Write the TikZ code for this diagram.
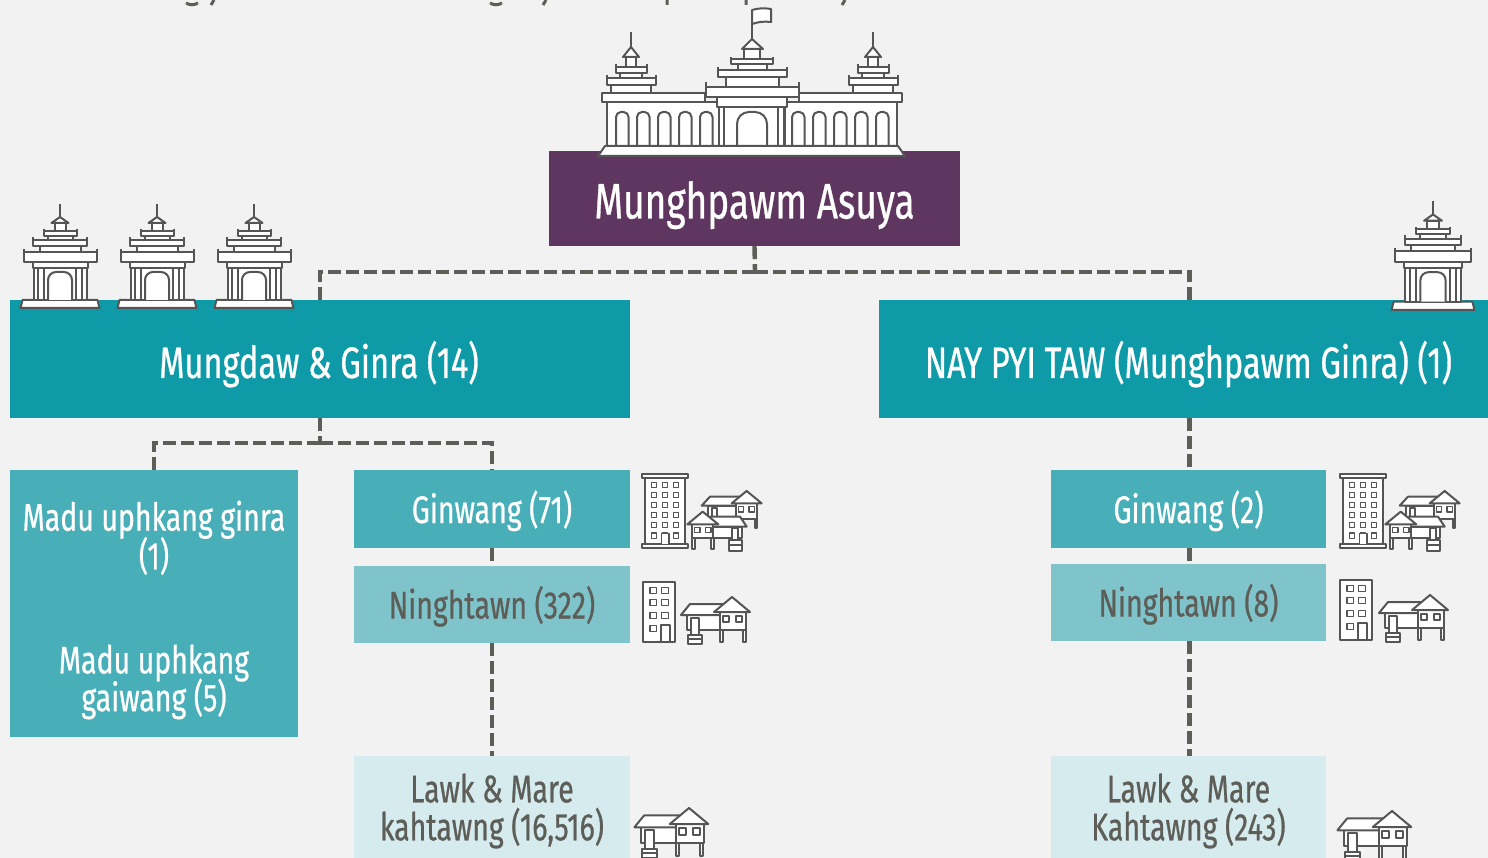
\documentclass[tikz,border=0pt]{standalone}
\usepackage{fontspec}
\newfontfamily\cond[FakeStretch=0.74,FakeBold=0.6]{Fira Sans}
\definecolor{bg}{HTML}{F2F2F2}
\definecolor{purp}{HTML}{5F3660}
\definecolor{tealA}{HTML}{0E9AA7}
\definecolor{tealB}{HTML}{48AEB8}
\definecolor{tealC}{HTML}{80C4CB}
\definecolor{tealD}{HTML}{D6EBEE}
\definecolor{ink}{HTML}{5E5E59}
\definecolor{icon}{HTML}{555555}
\newcommand{\PRoof}[5]{\draw[ic] (#1,#3) rectangle (#2,#4);\draw[ic] (#1,#5)--(#1,#4) (#2,#5)--(#2,#4);}
\newcommand{\RBox}[4]{\draw[ic] (#1,#3) rectangle (#2,#4);}
\newcommand{\ArchP}[5][5pt]{\draw[ic,rounded corners=#1] (#2,#5)--(#2,#4)--(#3,#4)--(#3,#5);}
\newcommand{\BaseAt}[2]{\raisebox{-#1}[0pt][0pt]{#2}}
\newcommand{\SideTower}[1]{\begin{scope}[shift={(#1,0)}]
 \RBox{-20}{20}{85}{93}\PRoof{-24.5}{24.5}{78}{85}{75}
 \RBox{-11}{11}{73}{78}\PRoof{-15.5}{15.5}{67}{73}{64}
 \RBox{-5}{5}{57}{67}
 \draw[ic] (-8,57)--(0,47)--(8,57)--cycle;
 \draw[ic] (0,47)--(0,32);
\end{scope}}
\tikzset{
 ic/.style={draw=icon,fill=white,line width=2pt,line join=round},
 thin ic/.style={draw=icon,fill=white,line width=1.6pt,line join=round},
 box/.style={rectangle,inner sep=0pt,text=white,align=center,font=\cond},
 big text/.style={font=\cond\fontsize{50}{54}\selectfont},
 mid text/.style={font=\cond\fontsize{44}{48}\selectfont},
 small text/.style={font=\cond\fontsize{38.5}{38}\selectfont},
 conn/.style={draw=ink,line width=4.4pt,dash pattern=on 13pt off 5pt},
 tower/.pic={
  \draw[ic] (-39.5,0)--(39.5,0)--(37.5,-8)--(-37.5,-8)--cycle;
  \RBox{-26.5}{26.5}{-40}{-8}
  \draw[ic] (-22,-40)--(-22,-8) (-16,-40)--(-16,-8) (16,-40)--(16,-8) (22,-40)--(22,-8);
  \ArchP[8pt]{-12}{12}{-36}{-8}
  \RBox{-27.5}{27.5}{-46}{-40}
  \PRoof{-36.5}{36.5}{-56}{-46}{-59}
  \RBox{-20.5}{20.5}{-62}{-56}
  \PRoof{-27}{27}{-68}{-62}{-71}
  \RBox{-12.5}{12.5}{-72}{-68}
  \PRoof{-16.5}{16.5}{-77}{-72}{-79}
  \RBox{-5.5}{5.5}{-85}{-77}
  \draw[ic] (-8.5,-85)--(0,-91)--(8.5,-85)--cycle;
  \draw[ic] (0,-91)--(0,-104);
 },
 house/.pic={
  \draw[ic] (-45,18) rectangle (-12,33);
  \draw[ic] (-12.5,33) rectangle (-9.5,45) (10.5,33) rectangle (13.5,45);
  \draw[ic] (-51,18)--(-42,7)--(-7,7)--(-7,18)--cycle;
  \draw[ic] (-12,15) rectangle (14,33);
  \draw[ic] (-18,15)--(0,0)--(18,15)--cycle;
  \draw[ic] (-9,19) rectangle (-3,25) (4,19) rectangle (10,25);
  \draw[ic] (-41,21) rectangle (-33,38);
  \draw[ic] (-44,38) rectangle (-30,47);
  \draw[ic] (-44,42)--(-30,42);
 },
 bigtown/.pic={
  \begin{scope}[x=0.3333pt,y=-0.3333pt]
  \draw[ic] (45,38) rectangle (165,238);
  \draw[ic] (35,27) rectangle (175,38);
  \draw[ic] (35,238) rectangle (175,250);
  \foreach \yy in {60,90,120,150,180,212}{\foreach \xx in {72,105,138}{
    \draw[thin ic] (\xx-8,\yy-8) rectangle (\xx+8,\yy+8);}}
  \draw[thin ic] (95,205) rectangle (117,238);
  % back house
  \draw[ic] (235,122) rectangle (320,155);
  \draw[ic] (245,130) rectangle (262,155);
  \draw[ic] (215,122)--(240,95)--(330,95)--(330,122)--cycle;
  \draw[ic] (374,162) rectangle (382,190);
  \draw[ic] (318,115) rectangle (380,162);
  \draw[ic] (305,115)--(350,78)--(395,115)--cycle;
  \draw[thin ic] (325,125) rectangle (341,141) (357,125) rectangle (373,141);
  % front house
  \draw[ic] (250,185) rectangle (335,220);
  \draw[ic] (240,155)--(330,155)--(350,185)--(240,185)--cycle;
  \draw[ic] (186,220) rectangle (194,252) (243,220) rectangle (251,252);
  \draw[ic] (185,178) rectangle (250,220);
  \draw[ic] (172,178)--(218,140)--(265,178)--cycle;
  \draw[thin ic] (194,187) rectangle (210,203) (227,187) rectangle (243,203);
  \draw[ic] (305,190) rectangle (325,225);
  \draw[ic] (297,225) rectangle (335,257);
  \draw[ic] (297,241)--(335,241);
  \end{scope}
 },
 smallbld/.pic={
  \begin{scope}[x=0.3333pt,y=-0.3333pt]
  \draw[ic] (38,350) rectangle (135,532);
  \foreach \yy in {377,413,452}{\foreach \xx in {70,105}{
    \draw[thin ic] (\xx-10,\yy-9) rectangle (\xx+10,\yy+9);}}
  \draw[thin ic] (60,481) rectangle (80,499);
  \draw[ic] (92,480) rectangle (120,532);
  \end{scope}
 },
}
\begin{document}
\begin{tikzpicture}[x=1pt,y=-1pt]
\useasboundingbox (0,0) rectangle (1488,858);
\clip (0,0) rectangle (1488,858);
\fill[bg] (0,0) rectangle (1488,858);
% clipped remnants of a text line at the top edge
\draw[ink,line width=3pt] (186,3) to[bend right=30] (198,3) (214,0)--(211,5)
  (490,3) to[bend right=30] (502,3) (546,0)--(543,5) (667,0)--(667,5) (746,0)--(746,5) (845,0)--(842,5);
% boxes
\node[box,fill=purp,minimum width=411pt,minimum height=95pt,big text] (asuya) at (754.5,198.5) {\BaseAt{20pt}{Munghpawm Asuya}};
\node[box,fill=tealA,minimum width=620pt,minimum height=118pt,mid text] (mungdaw) at (320,359) {\BaseAt{19pt}{\hspace*{-2pt}Mungdaw \& Ginra (14)}};
\node[box,fill=tealA,minimum width=609pt,minimum height=118pt,mid text] (nay) at (1183.5,359) {\BaseAt{19pt}{\hspace*{10pt}NAY PYI TAW (Munghpawm Ginra) (1)}};
\node[box,fill=tealB,minimum width=288pt,minimum height=267pt] (madu) at (154,603.5) {};
\node[text=white,align=center,inner sep=0pt,small text] (madut) at (154,610) {Madu uphkang ginra\\[-3pt](1)\\[66pt]Madu uphkang\\[-4pt]gaiwang (5)};
\node[box,fill=tealB,minimum width=276pt,minimum height=78pt,small text] (g1) at (492,509) {\BaseAt{14pt}{Ginwang (71)}};
\node[box,fill=tealC,text=ink,minimum width=276pt,minimum height=77pt,small text] (n1) at (492,604.5) {\BaseAt{14pt}{Ninghtawn (322)}};
\node[box,fill=tealD,minimum width=276pt,minimum height=110pt,anchor=north] (l1) at (492,756) {};
\node[text=ink,align=center,inner sep=0pt,small text] (l1t) at (492,811) {Lawk \& Mare\\kahtawng (16,516)};
\node[box,fill=tealB,minimum width=275pt,minimum height=78pt,small text] (g2) at (1188.5,509) {\BaseAt{14pt}{Ginwang (2)}};
\node[box,fill=tealC,text=ink,minimum width=275pt,minimum height=77pt,small text] (n2) at (1188.5,602.5) {\BaseAt{14pt}{Ninghtawn (8)}};
\node[box,fill=tealD,minimum width=275pt,minimum height=110pt,anchor=north] (l2) at (1188.5,756) {};
\node[text=ink,align=center,inner sep=0pt,small text] (l2t) at (1188.5,811) {Lawk \& Mare\\Kahtawng (243)};
% connectors
\coordinate (busA) at (755,272);
\coordinate (busB) at (320,443);
\coordinate (rtop) at (1189.5,300);
\coordinate (rbot) at (1189.5,418);
\coordinate (g2top) at (1189.5,470);
\coordinate (g2bot) at (1189.5,548);
\coordinate (n2top) at (1189.5,564);
\coordinate (n2bot) at (1189.5,641);
\coordinate (l2top) at (1189.5,756);
\draw[conn] (asuya.south) -- (busA);
\draw[conn] (busA) -| (mungdaw.north);
\draw[conn] (busA) -| (rtop);
\draw[conn] (mungdaw.south) -- (busB);
\draw[conn] (busB) -| (madu.north);
\draw[conn] (busB) -| (g1.north);
\draw[conn] (g1.south) -- (n1.north);
\draw[conn] (n1.south) -- (l1.north);
\draw[conn] (rbot) -- (g2top);
\draw[conn] (g2bot) -- (n2top);
\draw[conn] (n2bot) -- (l2top);
% palace
\SideTower{631}\SideTower{873}
\RBox{607}{720}{102}{146}\RBox{785}{897}{102}{146}
\RBox{602}{705}{93}{102}\RBox{799}{902}{93}{102}
\foreach \a in {616,637,658,679,700,792,813,834,855,876}{\ArchP{\a}{\a+12.5}{112}{146}}
\draw[ic] (719,107) rectangle (784,146);
\draw[ic] (724,107)--(724,146) (778,107)--(778,146);
\ArchP[12pt]{737}{767}{112}{146}
\RBox{717}{787}{97}{107}
\PRoof{706}{799}{87}{97}{82}
\RBox{726}{779}{77}{87}
\PRoof{718}{787}{70}{77}{67}
\RBox{738}{767}{64}{70}
\PRoof{731}{773}{59}{64}{57}
\RBox{744}{760}{49}{59}
\draw[ic] (742,49)--(752,39)--(763,49)--cycle;
\draw[ic] (752,39)--(752,10);
\draw[ic] (752,10) to[bend left=12] (771,9)--(771,22) to[bend right=12] (752,24)--cycle;
\draw[ic] (598,156)--(905,156)--(898,146)--(605,146)--cycle;
% towers
\pic at (60,308) {tower};
\pic at (157,308) {tower};
\pic at (254,308) {tower};
\pic[scale=1.05] at (1433,310) {tower};
% towns
\pic at (630,465) {bigtown};
\pic at (1328,465) {bigtown};
\pic at (630,465) {smallbld};
\pic at (1327,463) {smallbld};
\pic at (732,597) {house};
\pic at (1430,595) {house};
\pic[scale=1.07] at (689,808) {house};
\pic[scale=1.07] at (1392,811) {house};
\end{tikzpicture}
\end{document}
